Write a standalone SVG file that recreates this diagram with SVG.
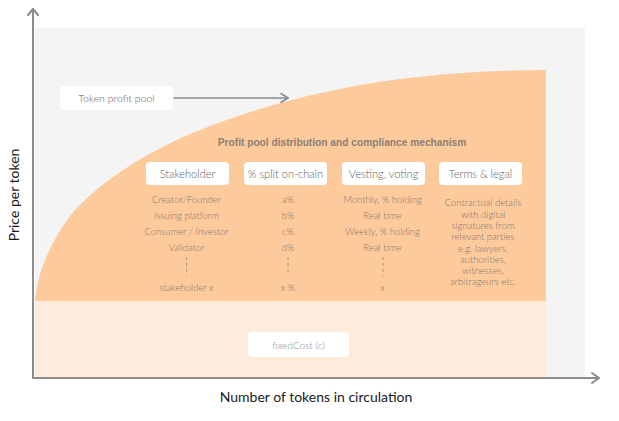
<svg xmlns="http://www.w3.org/2000/svg" width="619" height="421" viewBox="0 0 619 421">
<style>
.ax{stroke:#8c8c8c;stroke-width:2;fill:none;stroke-linecap:round;stroke-linejoin:round}
.conn{stroke:#8a8a8a;stroke-width:1.5;fill:none;stroke-linecap:round;stroke-linejoin:round}
.box{fill:#ffffff}
.hdr{font-family:Lato,"Noto Sans",sans-serif;font-size:11px;font-weight:300;fill:#5e5e5e;text-anchor:middle}
.row{font-family:Lato,"Noto Sans",sans-serif;font-size:9.5px;font-weight:300;fill:#86766b;text-anchor:middle}
.dash{stroke:#9a8a80;stroke-width:0.8;stroke-dasharray:3,3;fill:none}
.lbl{font-family:Lato,"Noto Sans",sans-serif;font-size:14px;fill:#1a1a1a;text-anchor:middle}
</style>
<rect width="619" height="421" fill="#ffffff"/>
<g id="background">
<rect x="35" y="28" width="550" height="350" fill="#f4f4f4"/>
<rect x="35" y="301" width="511" height="77" fill="#feebdc"/>
<path d="M35,301 L35,300 C37,275 50,240 75,210 C105,178 150,150 200,130 C260,106 330,88 400,79 C460,72 510,70 546,70 L546,301 Z" fill="#fdca9c"/>
</g>
<g id="axes">
<path class="ax" d="M33,9 L33,378 L599,378"/>
<path class="ax" d="M28,15 L33,9 L38,15"/>
<path class="ax" d="M592,373 L599,378 L592,383"/>
<text class="lbl" x="316" y="402">Number of tokens in circulation</text>
<text class="lbl" transform="translate(19,195) rotate(-90)">Price per token</text>
</g>
<g id="token-profit-pool">
<rect class="box" x="60" y="86" width="113" height="24" rx="4"/>
<text class="hdr" x="116.5" y="102" style="font-size:10.5px">Token profit pool</text>
</g>
<g id="connectors">
<path class="conn" d="M174,98 L288,98"/>
<path class="conn" d="M281,93.5 L288,98 L281,102.5"/>
</g>
<g id="title">
<text x="342" y="146" text-anchor="middle" font-family="'Liberation Sans',Arial,sans-serif" font-weight="bold" font-size="10.2" fill="#8c7f76">Profit pool distribution and compliance mechanism</text>
</g>
<g id="stakeholder">
<rect class="box" x="146" y="162" width="83" height="23" rx="4"/>
<text class="hdr" x="187.5" y="177.5">Stakeholder</text>
<text class="row" x="186.5" y="203">Creator/Founder</text>
<text class="row" x="186.5" y="219">Issuing platform</text>
<text class="row" x="186.5" y="234.5">Consumer / Investor</text>
<text class="row" x="186.5" y="250.5">Validator</text>
<path class="dash" d="M186.5,257 L186.5,276"/>
<text class="row" x="186.5" y="290.5">stakeholder x</text>
</g>
<g id="split">
<rect class="box" x="244" y="162" width="83" height="23" rx="4"/>
<text class="hdr" x="285.5" y="177.5">% split on-chain</text>
<text class="row" x="288" y="203">a%</text>
<text class="row" x="288" y="219">b%</text>
<text class="row" x="288" y="234.5">c%</text>
<text class="row" x="288" y="250.5">d%</text>
<path class="dash" d="M288,257 L288,276"/>
<text class="row" x="288" y="290.5">x %</text>
</g>
<g id="vesting">
<rect class="box" x="342" y="162" width="83" height="23" rx="4"/>
<text class="hdr" x="383.5" y="177.5">Vesting, voting</text>
<text class="row" x="382.5" y="203">Monthly, % holding</text>
<text class="row" x="382.5" y="219">Real time</text>
<text class="row" x="382.5" y="234.5">Weekly, % holding</text>
<text class="row" x="382.5" y="250.5">Real time</text>
<path class="dash" d="M383,257 L383,276"/>
<text class="row" x="382.5" y="290.5">x</text>
</g>
<g id="terms">
<rect class="box" x="439" y="162" width="83" height="23" rx="4"/>
<text class="hdr" x="480.5" y="177.5">Terms &amp; legal</text>
<text class="row" x="483" y="206">Contractual details</text>
<text class="row" x="483" y="217.5">with digital</text>
<text class="row" x="483" y="229">signatures from</text>
<text class="row" x="483" y="240">relevant parties</text>
<text class="row" x="483" y="251.5">e.g. lawyers,</text>
<text class="row" x="483" y="262.5">authorities,</text>
<text class="row" x="483" y="274">witnesses,</text>
<text class="row" x="483" y="285">arbitrageurs etc.</text>
</g>
<g id="fixed-cost">
<rect class="box" x="248" y="332" width="101" height="25" rx="4"/>
<text class="row" x="298.5" y="348.5" style="font-size:10px;fill:#8a8a8a">fixedCost (c)</text>
</g>
</svg>
